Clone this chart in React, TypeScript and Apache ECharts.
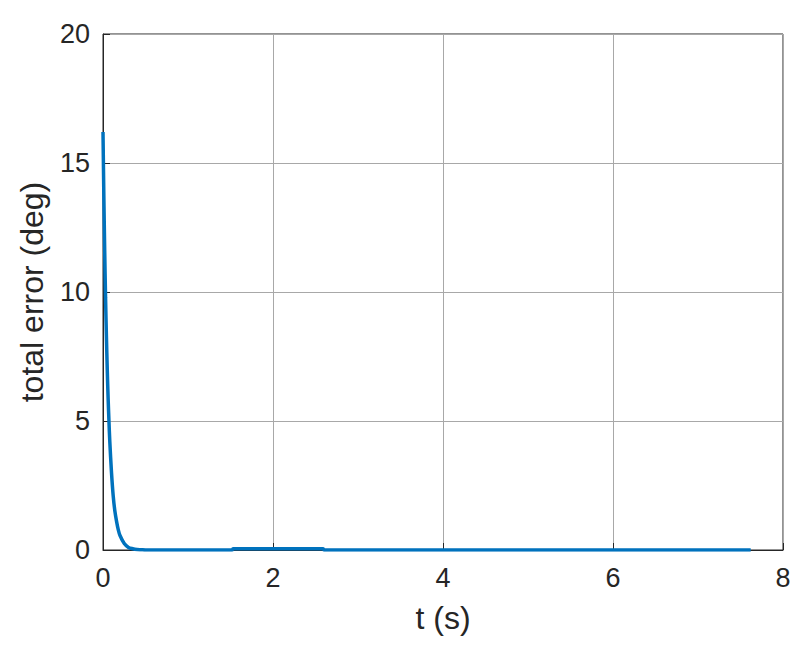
import React, { useEffect, useRef } from "react";
import * as echarts from "echarts";

const timeSec = [0, 0.01, 0.02, 0.03, 0.04, 0.05, 0.06, 0.07, 0.08, 0.1, 0.12, 0.14, 0.16, 0.18, 0.2, 0.25, 0.3, 0.35, 0.4, 0.45, 0.5, 1.0, 1.52, 1.53, 2.59, 2.6, 3, 4, 5, 6, 7, 7.62];
const totalErrorDeg = [16.2, 13.7, 11.6, 9.8, 8.3, 7.0, 5.9, 5.0, 4.2, 3.0, 2.1, 1.5, 1.1, 0.78, 0.56, 0.25, 0.1, 0.05, 0.02, 0.01, 0, 0, 0, 0.05, 0.05, 0, 0, 0, 0, 0, 0, 0];
const xTicks = [0, 2, 4, 6, 8];
const yTicks = [0, 5, 10, 15, 20];

export default function App() {
  const ref = useRef<HTMLDivElement>(null);
  useEffect(() => {
    if (!ref.current) return;
    const chart = echarts.init(ref.current, null, { renderer: "svg" });
    const font = "'Liberation Sans', Arial, Helvetica, sans-serif";
    const axisColor = "#262626";
    chart.setOption({
      animation: false,
      backgroundColor: "#ffffff",
      grid: {
        left: 103,
        top: 34,
        right: 24,
        bottom: 107,
        show: true,
        borderColor: axisColor,
        borderWidth: 1,
        backgroundColor: "#ffffff",
      },
      xAxis: {
        type: "value",
        min: xTicks[0],
        max: xTicks[xTicks.length - 1],
        interval: 2,
        name: "t (s)",
        nameLocation: "middle",
        nameGap: 52,
        nameTextStyle: { color: axisColor, fontSize: 32, fontFamily: font },
        axisLine: { show: true, onZero: false, lineStyle: { color: axisColor, width: 1 } },
        axisTick: { show: true, inside: true, length: 7, lineStyle: { color: axisColor } },
        axisLabel: { color: axisColor, fontSize: 27, fontFamily: font, margin: 14 },
        splitLine: { show: true, lineStyle: { color: "#a8a8a8", width: 1 } },
      },
      yAxis: {
        type: "value",
        min: yTicks[0],
        max: yTicks[yTicks.length - 1],
        interval: 5,
        name: "total error (deg)",
        nameLocation: "middle",
        nameGap: 55,
        nameTextStyle: { color: axisColor, fontSize: 32, fontFamily: font },
        axisLine: { show: true, onZero: false, lineStyle: { color: axisColor, width: 1 } },
        axisTick: { show: true, inside: true, length: 7, lineStyle: { color: axisColor } },
        axisLabel: { color: axisColor, fontSize: 27, fontFamily: font, margin: 13 },
        splitLine: { show: true, lineStyle: { color: "#a8a8a8", width: 1 } },
      },
      series: [
        {
          type: "line",
          data: timeSec.map((t, i) => [t, totalErrorDeg[i]]),
          showSymbol: false,
          smooth: 0.3,
          lineStyle: { color: "#0072BD", width: 3.5 },
          itemStyle: { color: "#0072BD" },
        },
      ],
    });
    return () => chart.dispose();
  }, []);
  return (
    <div
      ref={ref}
      style={{ position: "absolute", left: 0, top: 0, width: 807, height: 657 }}
    />
  );
}
